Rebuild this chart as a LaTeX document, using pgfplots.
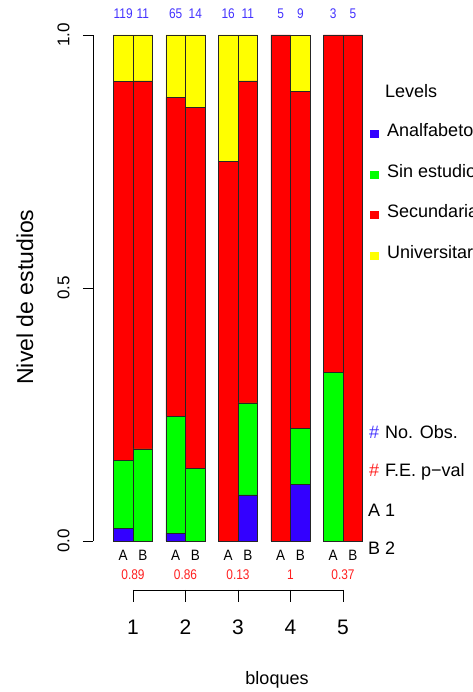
\documentclass[border=0pt]{standalone}
\usepackage{fontspec}
\setmainfont{Liberation Sans}
\usepackage{pgfplots}
\usepackage{pgfplotstable}
\pgfplotsset{compat=1.18}

\definecolor{cblue}{HTML}{3300FF}
\definecolor{cgreen}{HTML}{00FF00}
\definecolor{cred}{HTML}{FF0000}
\definecolor{cyellow}{HTML}{FFFF00}
\definecolor{numblue}{HTML}{4433FF}
\definecolor{pred}{HTML}{FF2020}

% counts per level for group A and B of each block (bar centre, counts, total)
\pgfplotstableread{
x       anal sin sec uni n
0.8124  3    16  89  11  119
1.1876  0    2   8   1   11
1.8124  1    15  41  8   65
2.1876  0    2   10  2   14
2.8124  0    0   12  4   16
3.1876  1    2   7   1   11
3.8124  0    0   5   0   5
4.1876  1    1   6   1   9
4.8124  0    1   2   0   3
5.1876  0    0   5   0   5
}\nivel

\newcommand{\fs}[1]{\fontsize{#1}{#1}\selectfont}
\tikzset{
  cnt/.style={font=\fs{14}, text=numblue, xscale=0.85},
  pv/.style={font=\fs{14}, text=pred, xscale=0.85},
  grp/.style={font=\fs{15}, xscale=0.9},
}

\begin{document}
\begin{tikzpicture}
\useasboundingbox (0,0) rectangle (472pt,692pt);
\begin{axis}[
  at={(93pt,151pt)}, anchor=south west,
  scale only axis, width=379pt, height=506pt,
  xmin=0.2381, xmax=7.457, ymin=0, ymax=1,
  enlargelimits=false, clip=false,
  axis x line=none, axis y line*=left,
  ytick={0,0.5,1}, yticklabels={,,},
  tick align=outside, major tick length=10pt,
  every tick/.style={black, line width=0.8pt},
  axis line style={black, line width=0.8pt},
  ybar stacked, bar width=0.375,
  every axis plot/.append style={draw=black!85, line width=0.6pt},
]
\addplot[fill=cblue]   table[x=x, y expr=\thisrow{anal}/\thisrow{n}] {\nivel};
\addplot[fill=cgreen]  table[x=x, y expr=\thisrow{sin}/\thisrow{n}] {\nivel};
\addplot[fill=cred]    table[x=x, y expr=\thisrow{sec}/\thisrow{n}] {\nivel};
\addplot[fill=cyellow] table[x=x, y expr=\thisrow{uni}/\thisrow{n}] {\nivel};

% y tick labels and title
\node[rotate=90, font=\fs{17}] at (axis cs:-0.3238,0) {0.0};
\node[rotate=90, font=\fs{17}] at (axis cs:-0.3238,0.5) {0.5};
\node[rotate=90, font=\fs{17}] at (axis cs:-0.3238,1) {1.0};
\node[rotate=90, font=\fs{23}] at (axis cs:-1.057,0.482) {Nivel de estudios};

% number of observations
\node[cnt] at (axis cs:0.8124,1.0415) {119};
\node[cnt] at (axis cs:1.1876,1.0415) {11};
\node[cnt] at (axis cs:1.8124,1.0415) {65};
\node[cnt] at (axis cs:2.1876,1.0415) {14};
\node[cnt] at (axis cs:2.8124,1.0415) {16};
\node[cnt] at (axis cs:3.1876,1.0415) {11};
\node[cnt] at (axis cs:3.8124,1.0415) {5};
\node[cnt] at (axis cs:4.1876,1.0415) {9};
\node[cnt] at (axis cs:4.8124,1.0415) {3};
\node[cnt] at (axis cs:5.1876,1.0415) {5};

% group letters, block axis and Fisher exact p-values
\pgfplotsinvokeforeach{1,...,5}{
  \node[grp] at (axis cs:#1-0.1876,-0.0277) {A};
  \node[grp] at (axis cs:#1+0.1876,-0.0277) {B};
  \draw[black, line width=0.8pt] (axis cs:#1,-0.0968) -- (axis cs:#1,-0.1206);
  \node[font=\fs{21}] at (axis cs:#1,-0.170) {#1};
}
\node[pv] at (axis cs:1,-0.0672) {0.89};
\node[pv] at (axis cs:2,-0.0672) {0.86};
\node[pv] at (axis cs:3,-0.0672) {0.13};
\node[pv] at (axis cs:4,-0.0672) {1};
\node[pv] at (axis cs:5,-0.0672) {0.37};
\draw[black, line width=0.8pt] (axis cs:1,-0.0968) -- (axis cs:5,-0.0968);
\node[font=\fs{18}] at (axis cs:3.743,-0.2747) {bloques};
\end{axis}

% legend
\node[font=\fs{18}, anchor=base west, inner sep=0pt] at (385pt,594pt) {Levels};
\fill[cblue]   (370pt,553.5pt) rectangle (379pt,561.5pt);
\fill[cgreen]  (370pt,513pt)   rectangle (379pt,521pt);
\fill[cred]    (370pt,472.5pt) rectangle (379pt,480.5pt);
\fill[cyellow] (370pt,432pt)   rectangle (379pt,440pt);
\node[font=\fs{18}, anchor=base west, inner sep=0pt] at (387pt,555pt) {Analfabeto};
\node[font=\fs{18}, anchor=base west, inner sep=0pt] at (387pt,514.5pt) {Sin estudios};
\node[font=\fs{18}, anchor=base west, inner sep=0pt] at (387pt,474pt) {Secundaria};
\node[font=\fs{18}, anchor=base west, inner sep=0pt] at (387pt,433.5pt) {Universitaria};

\node[font=\fs{18}, anchor=base west, inner sep=0pt, text=numblue] at (369pt,253.5pt) {\#};
\node[font=\fs{18}, anchor=base west, inner sep=0pt] at (385pt,253.5pt) {No. Obs.};
\node[font=\fs{18}, anchor=base west, inner sep=0pt, text=pred] at (369pt,215.5pt) {\#};
\node[font=\fs{18}, anchor=base west, inner sep=0pt] at (385pt,215.5pt) {F.E. p−val};
\node[font=\fs{18}, anchor=base west, inner sep=0pt] at (368pt,175.5pt) {A 1};
\node[font=\fs{18}, anchor=base west, inner sep=0pt] at (368pt,137.5pt) {B 2};
\end{tikzpicture}
\end{document}
